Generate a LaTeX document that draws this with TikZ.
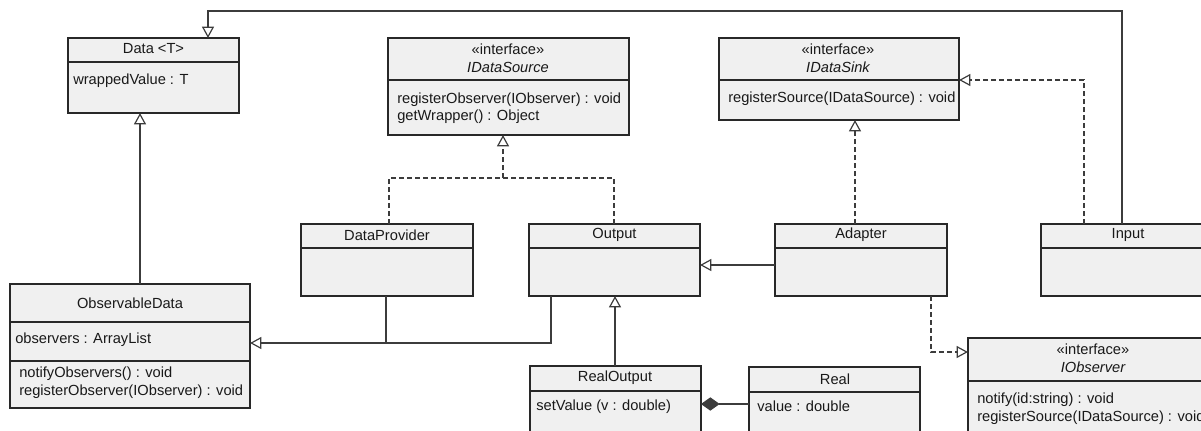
\documentclass[tikz,border=0pt]{standalone}
\usepackage{fontspec}
\setmainfont{Liberation Sans}
\usetikzlibrary{arrows.meta,fit}
\definecolor{boxfill}{RGB}{240,240,240}
\definecolor{boxline}{RGB}{40,40,40}
\definecolor{conline}{RGB}{60,60,60}
\begin{document}
\begin{tikzpicture}[x=0.75pt,y=-0.75pt,
  font=\fontsize{11}{13}\selectfont,
  cls/.style={draw=boxline,fill=boxfill,line width=0.9pt,inner sep=0pt,outer sep=0pt,rectangle},
  clsb/.style={cls,line width=1.4pt},
  sepline/.style={draw=boxline,line width=0.9pt},
  lbl/.style={inner sep=0pt,text=black!90},
  conn/.style={draw=conline,line width=0.8pt},
  gen/.style={conn,-{Triangle[open,fill=white,length=8.5pt,width=9pt,line width=0.9pt]}},
  realz/.style={gen,dash pattern=on 3.5pt off 2.5pt},
  dashline/.style={conn,dash pattern=on 3.5pt off 2.5pt},
  comp/.style={conn,{Diamond[length=14pt,width=10pt]}-}
]
\useasboundingbox (0,0) rectangle (1201,430);

% ---------- class boxes ----------
\node[cls,fit={(68,38) (239,113)}] (data) {};
\draw[sepline] (68,62) -- (239,62);
\node[lbl] (data-t) at (153.5,49) {Data <T>};
\node[lbl,anchor=west] (data-a) at (73,81) {wrappedValue : T};

\node[clsb,fit={(388,38) (629,135)}] (ids) {};
\draw[sepline] (388,80) -- (629,80);
\node[lbl] (ids-s) at (508,49) {«interface»};
\node[lbl] (ids-t) at (508,67) {\itshape IDataSource};
\node[lbl,anchor=west] (ids-o1) at (397,100) {registerObserver(IObserver) : void};
\node[lbl,anchor=west] (ids-o2) at (397,117) {getWrapper() : Object};

\node[clsb,fit={(719,38) (959,120)}] (isink) {};
\draw[sepline] (719,80) -- (959,80);
\node[lbl] (isink-s) at (838,49) {«interface»};
\node[lbl] (isink-t) at (838,67) {\itshape IDataSink};
\node[lbl,anchor=west] (isink-o1) at (728,99) {registerSource(IDataSource) : void};

\node[cls,fit={(301,224) (473,296)}] (dp) {};
\draw[sepline] (301,248) -- (473,248);
\node[lbl] (dp-t) at (387,235) {DataProvider};

\node[cls,fit={(529,224) (700,296)}] (out) {};
\draw[sepline] (529,248) -- (700,248);
\node[lbl] (out-t) at (614.5,235) {Output};

\node[cls,fit={(775,224) (947,296)}] (adp) {};
\draw[sepline] (775,248) -- (947,248);
\node[lbl] (adp-t) at (861,235) {Adapter};

\node[cls,fit={(1041,224) (1215,296)}] (inp) {};
\draw[sepline] (1041,248) -- (1215,248);
\node[lbl] (inp-t) at (1128,235) {Input};

\node[clsb,fit={(10,284) (250,408)}] (obs) {};
\draw[sepline] (10,322) -- (250,322);
\draw[sepline] (10,361) -- (250,361);
\node[lbl] (obs-t) at (130,303) {ObservableData};
\node[lbl,anchor=west] (obs-a) at (15,340) {observers : ArrayList};
\node[lbl,anchor=west] (obs-o1) at (19,374) {notifyObservers() : void};
\node[lbl,anchor=west] (obs-o2) at (19,392) {registerObserver(IObserver) : void};

\node[cls,fit={(530,366) (701,440)}] (ro) {};
\draw[sepline] (530,391) -- (701,391);
\node[lbl] (ro-t) at (615,378) {RealOutput};
\node[lbl,anchor=west] (ro-o) at (536,407) {setValue (v : double)};

\node[cls,fit={(749,367) (920,440)}] (real) {};
\draw[sepline] (749,392) -- (920,392);
\node[lbl] (real-t) at (835,379) {Real};
\node[lbl,anchor=west] (real-a) at (757,406) {value : double};

\node[clsb,fit={(968,338) (1218,440)}] (iobs) {};
\draw[sepline] (968,381) -- (1218,381);
\node[lbl] (iobs-s) at (1093,349) {«interface»};
\node[lbl] (iobs-t) at (1093,367) {\itshape IObserver};
\node[lbl,anchor=west] (iobs-o1) at (977,400) {notify(id:string) : void};
\node[lbl,anchor=west] (iobs-o2) at (977,418) {registerSource(IDataSource) : void};

% ---------- connectors ----------
\coordinate (c-top-r) at (1122,11);
\coordinate (c-top-l) at (208,11);
\draw[gen] (c-top-r |- inp.north) -- (c-top-r) -- (c-top-l) -- (c-top-l |- data.north);

\coordinate (c-in) at (1084,80);
\draw[realz] (c-in |- inp.north) -- (c-in) -- (c-in -| isink.east);

\coordinate (c-ad) at (855,0);
\draw[realz] (c-ad |- adp.north) -- (c-ad |- isink.south);

\coordinate (c-ds) at (503,178);
\coordinate (c-dp) at (389,178);
\coordinate (c-op) at (614,178);
\draw[dashline] (c-dp |- dp.north) -- (c-dp) -- (c-op) -- (c-op |- out.north);
\draw[realz] (c-ds) -- (c-ds |- ids.south);

\coordinate (c-ao) at (0,265);
\draw[gen] (adp.west |- c-ao) -- (out.east |- c-ao);

\coordinate (c-ro) at (615,0);
\draw[gen] (c-ro |- ro.north) -- (c-ro |- out.south);

\coordinate (c-o1) at (386,343);
\coordinate (c-o2) at (551,343);
\draw[conn] (c-o1 |- dp.south) -- (c-o1);
\draw[gen] (c-o2 |- out.south) -- (c-o2) -- (c-o2 -| obs.east);

\coordinate (c-od) at (140,0);
\draw[gen] (c-od |- obs.north) -- (c-od |- data.south);

\coordinate (c-ai) at (931,352);
\draw[realz] (c-ai |- adp.south) -- (c-ai) -- (c-ai -| iobs.west);

\coordinate (c-cp) at (0,404);
\draw[comp] (ro.east |- c-cp) -- (real.west |- c-cp);
\end{tikzpicture}
\end{document}
